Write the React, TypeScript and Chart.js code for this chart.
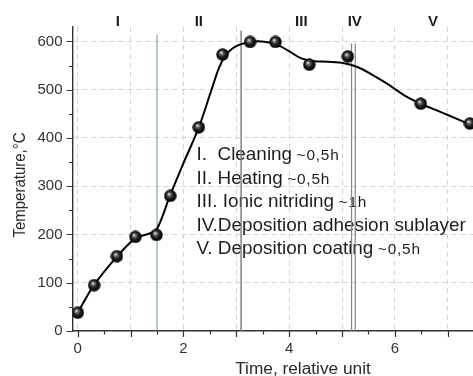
import React, { useEffect, useRef } from 'react';
import { Chart, registerables } from 'chart.js';

Chart.register(...registerables);

// ---- data ----
const pointTimes = [0, 0.31, 0.74, 1.09, 1.49, 1.75, 2.29, 2.74, 3.26, 3.74, 4.38, 5.11, 6.49, 7.42];
const pointTemps = [38, 95, 155, 195, 199, 280, 422, 573, 599, 599, 552, 569, 471, 430];

const curveTimes = [0, 0.3, 0.75, 1.1, 1.36, 1.5, 1.75, 2.0, 2.29, 2.54, 2.67, 2.79, 2.92, 3.05, 3.26, 3.48, 3.74, 3.98, 4.23, 4.48, 4.73, 5.04, 5.29, 5.54, 5.86, 6.17, 6.49, 6.86, 7.23, 7.42, 7.8];
const curveTemps = [38, 94, 155, 193, 202, 212, 282, 348, 422, 503, 545, 570, 585, 593, 599, 600, 595, 581, 565, 559, 558, 555, 547, 533, 512, 489, 471, 454, 437, 428, 412];

const stageLineTimes = [1.5, 3.09, 5.18, 5.25];
const stageLineTops = [614, 623, 596, 596];

const phaseLabels = ['I', 'II', 'III', 'IV', 'V'];
const phaseLabelTimes = [0.76, 2.29, 4.23, 5.24, 6.72];

const stepNames = ['I.  Cleaning', 'II. Heating', 'III. Ionic nitriding', 'IV.Deposition adhesion sublayer', 'V. Deposition coating'];
const stepDurations = ['~0,5h', '~0,5h', '~1h', '', '~0,5h'];

const xTickValues = [0, 0.5, 1, 1.5, 2, 2.5, 3, 3.5, 4, 4.5, 5, 5.5, 6, 6.5, 7, 7.5, 8, 8.5];
const yTickValues = [0, 50, 100, 150, 200, 250, 300, 350, 400, 450, 500, 550, 600];

const xAxisTitle = 'Time, relative unit';
const yAxisTitle = 'Temperature,\u00B0C';

const FONT = "'Liberation Sans', Arial, sans-serif";

function makeSphere(): HTMLCanvasElement {
  const c = document.createElement('canvas');
  c.width = 13;
  c.height = 13;
  const g = c.getContext('2d')!;
  const grad = g.createRadialGradient(5, 4.5, 0.3, 6.5, 6.5, 6.5);
  grad.addColorStop(0, '#f0f0f0');
  grad.addColorStop(0.22, '#707070');
  grad.addColorStop(0.55, '#1c1c1c');
  grad.addColorStop(1, '#000000');
  g.fillStyle = grad;
  g.beginPath();
  g.arc(6.5, 6.5, 6.2, 0, Math.PI * 2);
  g.fill();
  return c;
}

function stretchText(ctx: CanvasRenderingContext2D, text: string, x: number, y: number, sx: number) {
  ctx.save();
  ctx.translate(x, y);
  ctx.scale(sx, 1);
  ctx.fillText(text, 0, 0);
  ctx.restore();
  return ctx.measureText(text).width * sx;
}

const decorPlugin = {
  id: 'decor',
  beforeDatasetsDraw(chart: any) {
    const ctx: CanvasRenderingContext2D = chart.ctx;
    ctx.save();
    ctx.fillStyle = '#1e1e1e';
    ctx.textAlign = 'left';
    ctx.textBaseline = 'alphabetic';
    const x0 = 196.5;
    for (let i = 0; i < stepNames.length; i++) {
      const y = 160 + i * 23.6;
      ctx.font = `17.5px ${FONT}`;
      const w = stretchText(ctx, stepNames[i], x0, y, 1.08);
      if (stepDurations[i]) {
        ctx.font = `14px ${FONT}`;
        let cx = x0 + w + 4.5;
        for (const ch of stepDurations[i]) {
          cx += stretchText(ctx, ch, cx, y, 1.1) + 0.8;
        }
      }
    }
    ctx.restore();
  },
  afterDraw(chart: any) {
    const ctx: CanvasRenderingContext2D = chart.ctx;
    const xs = chart.scales.x;
    const ys = chart.scales.y;
    const area = chart.chartArea;
    ctx.save();
    // tick marks
    ctx.strokeStyle = '#333';
    ctx.lineWidth = 1.2;
    ctx.beginPath();
    for (const t of xs.ticks) {
      const px = Math.round(xs.getPixelForValue(t.value)) + 0.5;
      const len = Number.isInteger(t.value) ? 6 : 3.5;
      ctx.moveTo(px, area.bottom);
      ctx.lineTo(px, area.bottom + len);
    }
    for (const t of ys.ticks) {
      const py = Math.round(ys.getPixelForValue(t.value)) + 0.5;
      const len = t.value % 100 === 0 ? 6 : 3.5;
      ctx.moveTo(area.left, py);
      ctx.lineTo(area.left - len, py);
    }
    ctx.stroke();

    // phase labels on top
    ctx.fillStyle = '#1e1e1e';
    ctx.font = `bold 15px ${FONT}`;
    ctx.textAlign = 'center';
    ctx.textBaseline = 'alphabetic';
    for (let i = 0; i < phaseLabels.length; i++) {
      ctx.fillText(phaseLabels[i], xs.getPixelForValue(phaseLabelTimes[i]), 26);
    }

    // axis titles
    ctx.fillStyle = '#2a2a2a';
    ctx.font = `17.3px ${FONT}`;
    ctx.fillText(xAxisTitle, 303, 374);

    ctx.save();
    ctx.translate(25, 185);
    ctx.rotate(-Math.PI / 2);
    ctx.scale(1, 1.12);
    ctx.font = `15px ${FONT}`;
    ctx.fillText(yAxisTitle, 0, 0);
    ctx.restore();

    ctx.restore();
  },
};

export default function App() {
  const ref = useRef<HTMLCanvasElement>(null);

  useEffect(() => {
    const canvas = ref.current!;
    const sphere = makeSphere();

    const lineColors = ['#6a9f6a', '#7a7a7a', '#858585', '#858585'];
    const lineWidths = [1, 1.4, 1.2, 1.2];
    const stageDatasets = stageLineTimes.map((t, i) => ({
      data: [
        { x: t, y: 0 },
        { x: t, y: stageLineTops[i] },
      ],
      showLine: true,
      borderColor: lineColors[i],
      borderWidth: lineWidths[i],
      pointRadius: 0,
      order: 2,
    }));

    const chart = new Chart(canvas, {
      type: 'scatter',
      data: {
        datasets: [
          {
            data: pointTimes.map((x, i) => ({ x, y: pointTemps[i] })),
            showLine: false,
            pointStyle: sphere as any,
            pointRadius: 6,
            order: 0,
          },
          {
            data: curveTimes.map((x, i) => ({ x, y: curveTemps[i] })),
            showLine: true,
            borderColor: '#000',
            borderWidth: 2,
            pointRadius: 0,
            tension: 0.35,
            order: 1,
          },
          ...stageDatasets,
        ] as any,
      },
      options: {
        responsive: false,
        animation: false,
        events: [],
        layout: { padding: { top: 27, right: 3, left: 0, bottom: 0 } },
        plugins: { legend: { display: false }, tooltip: { enabled: false } },
        scales: {
          x: {
            type: 'linear',
            min: -0.1,
            max: 8.5,
            afterBuildTicks: (s: any) => {
              s.ticks = xTickValues.map((v) => ({ value: v }));
            },
            afterFit: (s: any) => {
              s.height = 45;
            },
            ticks: {
              autoSkip: false,
              maxRotation: 0,
              minRotation: 0,
              padding: 3,
              color: '#333',
              font: { family: FONT, size: 15 },
              callback: (v: any) => (Number(v) % 2 === 0 ? String(v) : ''),
            },
            grid: {
              color: (c: any) => (c.tick && Number.isInteger(c.tick.value) ? '#d4d4d4' : 'rgba(0,0,0,0)'),
              lineWidth: 1,
              drawTicks: true,
              tickLength: 6,
              tickColor: 'rgba(0,0,0,0)',
            },
            border: { display: true, color: '#333', width: 1.4, dash: [5, 4] },
          },
          y: {
            type: 'linear',
            min: 0,
            max: 630,
            afterBuildTicks: (s: any) => {
              s.ticks = yTickValues.map((v) => ({ value: v }));
            },
            afterFit: (s: any) => {
              s.width = 72.5;
            },
            ticks: {
              autoSkip: false,
              padding: 4,
              color: '#333',
              font: { family: FONT, size: 15 },
              callback: (v: any) => (Number(v) % 100 === 0 ? String(v) : ''),
            },
            grid: {
              color: (c: any) =>
                c.tick && c.tick.value % 100 === 0 && c.tick.value !== 0 ? '#d4d4d4' : 'rgba(0,0,0,0)',
              lineWidth: 1,
              drawTicks: true,
              tickLength: 6,
              tickColor: 'rgba(0,0,0,0)',
            },
            border: { display: true, color: '#333', width: 1.4, dash: [5, 4] },
          },
        },
      },
      plugins: [decorPlugin],
    });

    return () => chart.destroy();
  }, []);

  return (
    <div
      style={{
        position: 'absolute',
        left: 0,
        top: 0,
        width: 473,
        height: 376,
        overflow: 'hidden',
        background: '#fff',
      }}
    >
      <canvas ref={ref} width={534} height={376} style={{ display: 'block' }} />
    </div>
  );
}
